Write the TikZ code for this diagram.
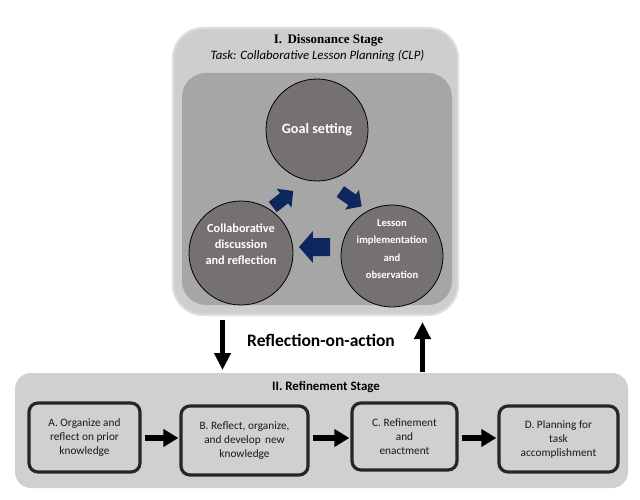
\documentclass[tikz,border=0pt]{standalone}
\usepackage{fontspec}
\setmainfont{Liberation Serif}
\newfontfamily\calfont{Carlito}
\usetikzlibrary{arrows.meta}
\definecolor{outerg}{RGB}{206,206,206}
\definecolor{outerrim}{RGB}{222,222,222}
\definecolor{innerg}{RGB}{166,166,166}
\definecolor{circg}{RGB}{118,113,113}
\definecolor{navy}{RGB}{14,38,94}
\definecolor{botg}{RGB}{208,208,208}
\definecolor{edgek}{RGB}{38,38,38}
\newcommand{\blockarr}[6]{%
  \begin{scope}[shift={(#1,#2)},rotate=#3]
    \fill[navy] (-#4/2,-#6/2) -- (#4/2-#4*0.45,-#6/2) -- (#4/2-#4*0.45,-#5/2) -- (#4/2,0)
      -- (#4/2-#4*0.45,#5/2) -- (#4/2-#4*0.45,#6/2) -- (-#4/2,#6/2) -- cycle;
  \end{scope}}
\begin{document}
\begin{tikzpicture}[x=1pt,y=-1pt,
  circnode/.style={circle,draw=black,line width=0.8pt,fill=circg,text=white,
    font=\calfont\bfseries,align=center,inner sep=0pt},
  stagebox/.style={rectangle,rounded corners=9pt,draw=edgek,line width=3.2pt,fill=botg,
    font=\calfont\fontsize{11.3}{14}\selectfont,align=center,inner sep=0pt,text=black!90},
  flowarr/.style={line width=5.5pt,-{Triangle[length=15pt,width=17pt]},shorten <=3pt,shorten >=1pt},
  vertarr/.style={line width=5pt,-{Triangle[length=17pt,width=16pt]}}]
\useasboundingbox (0,0) rectangle (640,500);
\fill[white] (0,0) rectangle (640,500);

% Dissonance stage
\node[rectangle,rounded corners=30pt,fill=outerg,draw=outerrim,line width=2pt,
  minimum width=285pt,minimum height=287pt,inner sep=0pt] (outer) at (315.5,171.5) {};
\node[rectangle,rounded corners=24pt,fill=innerg,minimum width=270pt,minimum height=232pt,
  inner sep=0pt] (inner) at (317,189) {};
\node[font=\bfseries\fontsize{13}{15}\selectfont] (dtitle) at (328.5,40) {I.\, Dissonance Stage};
\node[font=\calfont\itshape\fontsize{12.8}{15}\selectfont] (task) at (317.5,56)
  {Task: Collaborative Lesson Planning (CLP)};

\node[circnode,minimum size=102pt,font=\calfont\bfseries\fontsize{14.2}{16}\selectfont] (goal) at (317,130) {Goal setting};
\node[circnode,minimum size=104pt,font=\calfont\bfseries\fontsize{12.3}{16}\selectfont] (coll) at (241,253)
  {\raisebox{4.5pt}[0pt][0pt]{\begin{tabular}{@{}c@{}}Collaborative\\discussion\\and reflection\end{tabular}}};
\node[circnode,minimum size=102pt,font=\calfont\bfseries\fontsize{10.6}{17.5}\selectfont] (less) at (392,256)
  {\raisebox{4.5pt}[0pt][0pt]{\begin{tabular}{@{}c@{}}Lesson\\implementation\\and\\observation\end{tabular}}};

\blockarr{283}{199}{38}{26}{24}{13}
\blockarr{351}{199}{-35}{26}{24}{13}
\blockarr{314.5}{247}{180}{31}{32}{18}

% Reflection on action
\node[font=\calfont\bfseries\fontsize{17.5}{19}\selectfont] (refl) at (321,340) {Reflection-on-action};

% Refinement stage
\node[rectangle,rounded corners=16pt,fill=botg,minimum width=613pt,minimum height=115pt,
  inner sep=0pt] (bot) at (321.5,430.5) {};
\node[font=\calfont\bfseries\fontsize{12.9}{14}\selectfont] (rtitle) at (326,387) {II. Refinement Stage};

\node[stagebox,minimum width=111pt,minimum height=69pt] (A) at (84.5,437.5)
  {A. Organize and\\reflect on prior\\knowledge};
\node[stagebox,minimum width=127pt,minimum height=69pt] (B) at (244.5,440.5)
  {B. Reflect, organize,\\and develop\, new\\knowledge};
\node[stagebox,minimum width=105pt,minimum height=67pt] (C) at (404.5,436.5)
  {C. Refinement\\and\\enactment};
\node[stagebox,minimum width=119pt,minimum height=66pt] (D) at (558.5,439)
  {D. Planning for\\task\\accomplishment};

\draw[flowarr] (A.east |- 0,438) -- (B.west |- 0,438);
\draw[flowarr] (B.east |- 0,438) -- (C.west |- 0,438);
\draw[flowarr] (C.east |- 0,438) -- (D.west |- 0,438);

\coordinate (dtop) at (222.5,320);
\coordinate (dbot) at (222.5,370);
\coordinate (ubot) at (422.5,372);
\coordinate (utop) at (422.5,322);
\draw[vertarr] (dtop) -- (dbot);
\draw[vertarr] (ubot) -- (utop);
\end{tikzpicture}
\end{document}
